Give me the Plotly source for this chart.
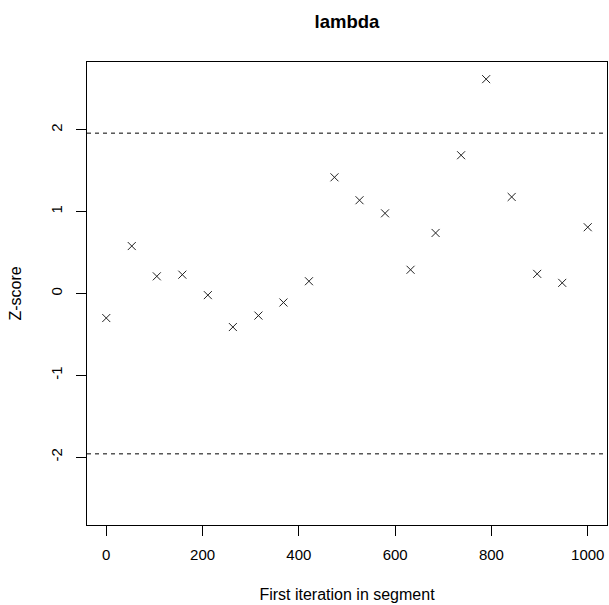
import plotly.graph_objects as go

# Geweke diagnostic: Z-scores for the first iteration of each segment
first_iteration = [0, 53, 105, 158, 211, 263, 316, 368, 421, 474,
                   526, 579, 632, 684, 737, 789, 842, 895, 947, 1000]
z_scores = [-0.30, 0.58, 0.21, 0.23, -0.02, -0.41, -0.27, -0.11, 0.15, 1.42,
            1.14, 0.98, 0.29, 0.74, 1.69, 2.62, 1.18, 0.24, 0.13, 0.81]
bounds = [-1.96, 1.96]
x_ticks = [0, 200, 400, 600, 800, 1000]
y_ticks = [-2, -1, 0, 1, 2]

FONT = "Liberation Sans, Arial, sans-serif"

fig = go.Figure()
fig.add_trace(go.Scatter(
    x=first_iteration, y=z_scores, mode="markers",
    marker=dict(symbol="x-thin", size=8, line=dict(width=1, color="#222222"),
                color="#222222"),
    showlegend=False, hoverinfo="skip"))

for b in bounds:
    fig.add_hline(y=b, line=dict(color="black", width=1, dash="4px,4px"))

ymax = max(abs(v) for v in z_scores)
ypad = 0.04 * 2 * ymax
xpad = 0.04 * (max(first_iteration) - min(first_iteration))

fig.update_layout(
    width=609, height=605,
    margin=dict(l=87, r=2, t=62, b=80),
    paper_bgcolor="white", plot_bgcolor="white",
    font=dict(family=FONT, size=15, color="black"),
    title=dict(text="<b>lambda</b>", x=(87 + 607) / 2 / 609, xanchor="center",
               y=1 - 22 / 605, yanchor="middle", yref="container",
               font=dict(family=FONT, size=18.5, color="black")),
    xaxis=dict(range=[min(first_iteration) - xpad, max(first_iteration) + xpad],
               tickvals=x_ticks, ticks="outside", ticklen=10, tickwidth=1,
               tickcolor="black", showline=True, linecolor="black", linewidth=1,
               mirror=True, showgrid=False, zeroline=False,
               ticklabelstandoff=6,
               title=dict(text="First iteration in segment", standoff=26,
                          font=dict(size=16))),
    yaxis=dict(range=[-ymax - ypad, ymax + ypad],
               tickvals=y_ticks, ticktext=[str(v) for v in y_ticks],
               tickangle=-90, ticks="outside", ticklen=10, tickwidth=1,
               tickcolor="black", showline=True, linecolor="black", linewidth=1,
               mirror=True, showgrid=False, zeroline=False,
               ticklabelstandoff=8,
               title=dict(text="Z-score", standoff=22, font=dict(size=16))),
)

fig.write_html("out.html")
